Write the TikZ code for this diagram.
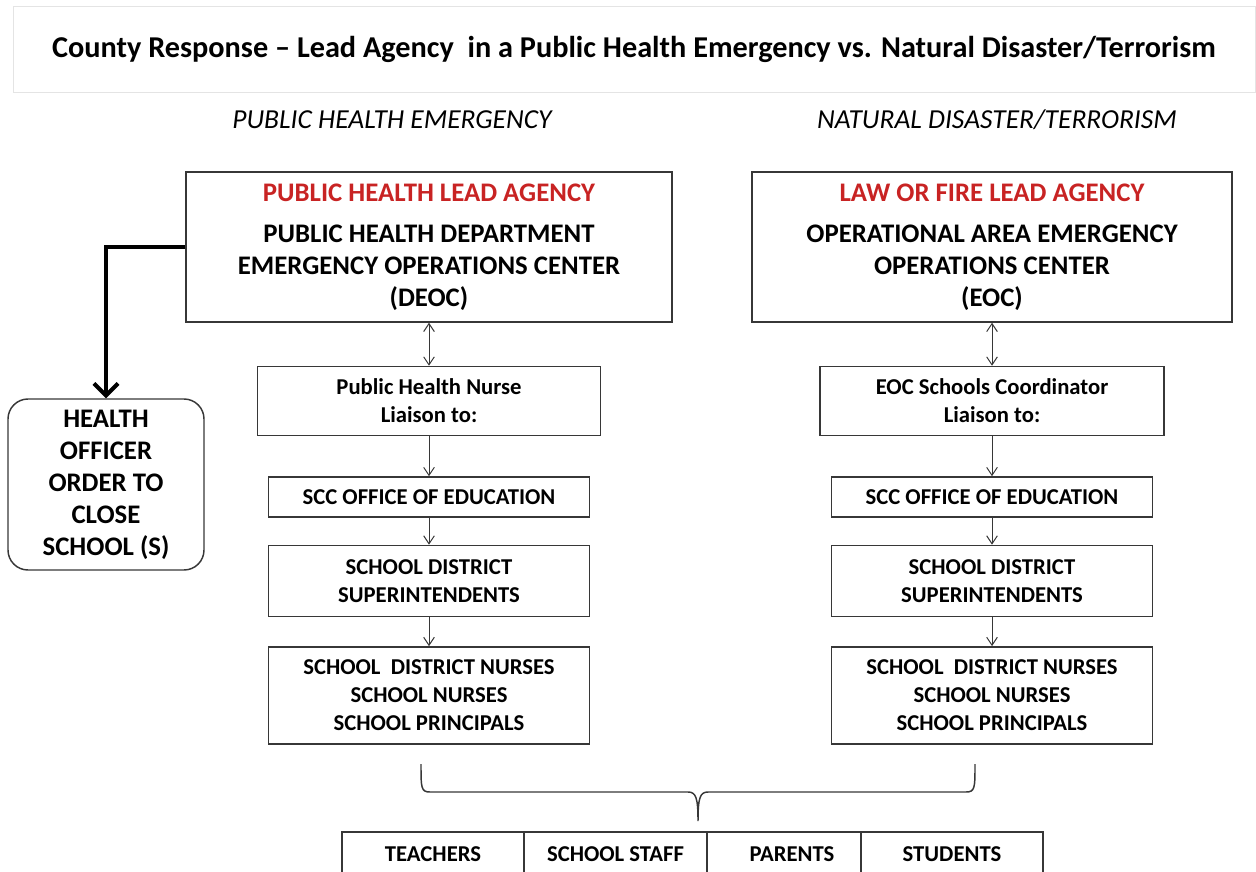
\documentclass[tikz,border=0pt]{standalone}
\usepackage{fontspec}
\setmainfont{Carlito}
\usepackage{xcolor}
\usepackage{tikz}
\usetikzlibrary{arrows.meta, positioning, calc}

\definecolor{leadred}{RGB}{200,35,35}
\definecolor{boxline}{RGB}{55,55,55}
\definecolor{titleline}{RGB}{228,228,228}

\begin{document}
\begin{tikzpicture}[
        x=0.75pt, y=-0.75pt,
        bigbox/.style={draw=boxline, line width=1.1pt, rectangle, minimum height=112.5pt, align=center, font=\fontsize{20.1}{24}\selectfont\bfseries},
        smallbox/.style={draw=boxline, line width=1.1pt, rectangle, align=center, font=\fontsize{17}{20.8}\selectfont\bfseries},
        header/.style={font=\fontsize{20.6}{24}\selectfont\itshape},
        cell/.style={draw=boxline, line width=1.1pt, rectangle, outer sep=0pt, minimum height=33pt, font=\fontsize{17}{20}\selectfont\bfseries},
        arrow/.style={-{Straight Barb[length=6pt, width=8pt]}, line width=0.75pt, draw=boxline},
        twoway/.style={{Straight Barb[length=6pt, width=8pt]}-{Straight Barb[length=6pt, width=8pt]}, line width=0.75pt, draw=boxline},
        bigarrow/.style={-{Straight Barb[length=9pt, width=18pt]}, line width=3pt}
    ]
    \useasboundingbox (0,0) rectangle (1256,871);
    \clip (0,0) rectangle (1256,871);

    % Title
    \node[draw=titleline, line width=0.75pt, minimum width=931.5pt, minimum height=64.5pt, font=\fontsize{22.7}{26}\selectfont\bfseries] (title) at (634,49) {County Response -- Lead Agency~ in a Public Health Emergency vs. Natural Disaster/Terrorism};

    % Headers
    \node[header] (phehead) at (392,120) {PUBLIC HEALTH EMERGENCY};
    \node[header] (ndhead) at (997,120) {NATURAL DISASTER/TERRORISM};

    % Lead agencies
    \node[bigbox, minimum width=364.5pt] (deoc) at (429,247) {{\color{leadred}PUBLIC HEALTH LEAD AGENCY}\\[6.75pt]PUBLIC HEALTH DEPARTMENT\\EMERGENCY OPERATIONS CENTER\\(DEOC)};
    \node[bigbox, minimum width=360pt] (eoc) at (992,247) {{\color{leadred}LAW OR FIRE LEAD AGENCY}\\[6.75pt]OPERATIONAL AREA EMERGENCY\\OPERATIONS CENTER\\(EOC)};

    % Public health chain
    \node[smallbox, minimum width=257.25pt, minimum height=51.75pt, below=32.25pt of deoc] (phnurse) {Public Health Nurse\\Liaison to:};
    \node[smallbox, minimum width=240.75pt, minimum height=30pt, below=30pt of phnurse] (phscc) {SCC OFFICE OF EDUCATION};
    \node[smallbox, minimum width=240.75pt, minimum height=53.25pt, below=20.25pt of phscc] (phdist) {SCHOOL DISTRICT\\SUPERINTENDENTS};
    \node[smallbox, minimum width=240.75pt, minimum height=72.75pt, below=21.75pt of phdist] (phnurses) {SCHOOL~ DISTRICT NURSES\\SCHOOL NURSES\\SCHOOL PRINCIPALS};

    % Disaster chain
    \node[smallbox, minimum width=258pt, minimum height=51.75pt, below=32.25pt of eoc] (eocnurse) {EOC Schools Coordinator\\Liaison to:};
    \node[smallbox, minimum width=240.75pt, minimum height=30pt, below=30pt of eocnurse] (eocscc) {SCC OFFICE OF EDUCATION};
    \node[smallbox, minimum width=240.75pt, minimum height=53.25pt, below=20.25pt of eocscc] (eocdist) {SCHOOL DISTRICT\\SUPERINTENDENTS};
    \node[smallbox, minimum width=240.75pt, minimum height=72.75pt, below=21.75pt of eocdist] (eocnurses) {SCHOOL~ DISTRICT NURSES\\SCHOOL NURSES\\SCHOOL PRINCIPALS};

    % Health officer order
    \node[draw=boxline, line width=1.1pt, rounded corners=15pt, minimum width=147pt, minimum height=128.25pt, align=center, font=\fontsize{20.1}{24}\selectfont\bfseries] (officer) at (106,484.5) {HEALTH\\OFFICER\\ORDER TO\\CLOSE\\SCHOOL (S)};

    % Arrows
    \draw[bigarrow] (deoc.west) -| (officer.north);
    \draw[twoway] (deoc) -- (phnurse);
    \draw[arrow] (phnurse) -- (phscc);
    \draw[arrow] (phscc) -- (phdist);
    \draw[arrow] (phdist) -- (phnurses);
    \draw[twoway] (eoc.south -| eocnurse.north) -- (eocnurse);
    \draw[arrow] (eocnurse) -- (eocscc);
    \draw[arrow] (eocscc) -- (eocdist);
    \draw[arrow] (eocdist) -- (eocnurses);

    % Brace
    \draw[line width=1.1pt, draw=boxline] (421,764) .. controls (421,788) and (421,792) .. (430,792) -- (688,792)
        .. controls (696,792) and (698,798) .. (698,821)
        .. controls (698,798) and (700,792) .. (708,792) -- (966,792)
        .. controls (975,792) and (975,788) .. (975,764);

    % Audience
    \node[cell, minimum width=136.5pt] (teachers) at (433,854) {TEACHERS};
    \node[cell, minimum width=137.25pt, right=0pt of teachers] (staff) {SCHOOL STAFF};
    \node[cell, minimum width=115.5pt, right=0pt of staff] (parents) {\hspace{12pt}PARENTS};
    \node[cell, minimum width=136.5pt, right=0pt of parents] (students) {STUDENTS};

\end{tikzpicture}
\end{document}
